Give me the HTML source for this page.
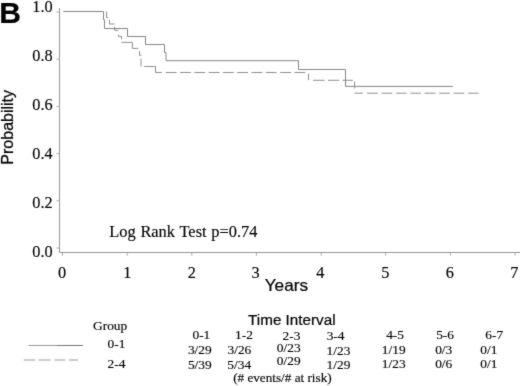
<!DOCTYPE html>
<html>
<head>
<meta charset="utf-8">
<title>Figure B</title>
<style>
html,body{margin:0;padding:0;background:#fff;}
body{width:520px;height:386px;overflow:hidden;}
svg{display:block;will-change:transform;}
.serif{font-family:"Liberation Serif",serif;fill:#000;stroke:#000;stroke-width:0.15px;}
.sans{font-family:"Liberation Sans",sans-serif;fill:#000;stroke:#000;stroke-width:0.22px;}
</style>
</head>
<body>
<svg width="520" height="386" viewBox="0 0 520 386">
<defs><filter id="soft" x="0" y="0" width="520" height="386" filterUnits="userSpaceOnUse" color-interpolation-filters="sRGB"><feConvolveMatrix order="3" kernelMatrix="0.02 0.08 0.02 0.08 0.6 0.08 0.02 0.08 0.02" divisor="1" edgeMode="duplicate" preserveAlpha="false"/></filter></defs>
<rect x="0" y="0" width="520" height="386" fill="#ffffff"/>
<g filter="url(#soft)">

<!-- axes -->
<g stroke="#969696" stroke-width="1" fill="none">
  <path d="M59.5 8 V252.5 H520"/>
  <path stroke="#a8a8a8" d="M56.5 12 H59.5 M56.5 59.2 H59.5 M56.5 106.4 H59.5 M56.5 153.6 H59.5 M56.5 200.8 H59.5 M56.5 248 H59.5"/>
  <path stroke="#a8a8a8" d="M62.5 253 V255.7 M127.2 253 V255.7 M191.8 253 V255.7 M256.4 253 V255.7 M321.1 253 V255.7 M385.7 253 V255.7 M450.4 253 V255.7 M515 253 V255.7"/>
</g>

<!-- curves -->
<g fill="none" stroke="#858585" stroke-width="1">
  <path d="M63.3 11.5 H103.5 V19.8 H104.5 V28.5 H127.5 V36.5 H145.5 V44.5 H164.5 V52.5 H166 V60.7 H298.5 V69.5 H345.5 V86.4 H453"/>
  <g stroke="#8e8e8e">
    <path d="M106.5 11.5 V17.6 H108.2 M109.5 20.1 V24 H114.6 M114.6 26.7 V30.3 H118.5 M118.4 34.6 V36.4 H121.5 V39.3 M121.4 42.4 H132.4 V48.4 H138.2 M139.5 51.2 V55.3 H141 V55.9 M141 58.5 V66.5 M144.2 66.5 H155.5 V72.5 H162"/>
    <path stroke-dasharray="10.9 3.4" d="M165.7 72.5 H306"/>
    <path d="M308.5 73.8 V80.3 M313 80.3 H324.6 M328 80.3 H339.2 M342.5 80.3 H352.8 M354.6 81.5 V88.3 M354.6 93.2 H363"/>
    <path stroke-dasharray="10.8 3.6" d="M367.1 93.2 H479.1"/>
  </g>
</g>

<!-- labels -->
<text class="sans" x="-0.8" y="23.4" font-size="30" font-weight="700">B</text>
<text class="sans" transform="translate(12.6 127.3) rotate(-90)" text-anchor="middle" font-size="16">Probability</text>

<g class="serif" font-size="16.3" text-anchor="end">
  <text x="52.6" y="11.9">1.0</text>
  <text x="52.6" y="60.6">0.8</text>
  <text x="52.6" y="109.7">0.6</text>
  <text x="52.6" y="158.5">0.4</text>
  <text x="52.6" y="207.7">0.2</text>
  <text x="52.6" y="256.5">0.0</text>
</g>
<g class="serif" font-size="16.3" text-anchor="middle">
  <text x="62.1" y="277.8">0</text>
  <text x="127.3" y="277.8">1</text>
  <text x="191.7" y="277.8">2</text>
  <text x="255.5" y="277.8">3</text>
  <text x="320.4" y="277.8">4</text>
  <text x="385.3" y="277.8">5</text>
  <text x="449.7" y="277.8">6</text>
  <text x="514.2" y="277.8">7</text>
</g>
<text class="sans" transform="translate(286.4 290.7) scale(1.075 1)" text-anchor="middle" font-size="16">Years</text>
<text class="serif" x="109.2" y="237.2" font-size="16.4" word-spacing="0.7">Log Rank Test p=0.74</text>

<!-- legend -->
<g fill="none" stroke-width="1">
  <path stroke="#999" d="M28.5 345.5 H57"/><path stroke="#777" d="M57 345.5 H83"/>
  <path stroke="#999" d="M23.8 360 H35.4 M38.5 360 H50.5 M54.6 360 H65.4 M68.9 360 H78.2"/>
</g>
<g class="serif" font-size="13.4">
  <text x="93" y="329.5">Group</text>
  <text x="107.6" y="348">0-1</text>
  <text x="107.6" y="368">2-4</text>
</g>

<!-- table -->
<text class="sans" transform="translate(291.8 325.1) scale(1.015 1)" text-anchor="middle" font-size="15">Time Interval</text>
<g class="serif" font-size="13.4" text-anchor="middle">
  <text x="201.4" y="339.4">0-1</text>
  <text x="244" y="339.4">1-2</text>
  <text x="291.5" y="340.1">2-3</text>
  <text x="335.6" y="340.1">3-4</text>
  <text x="395.1" y="339.3">4-5</text>
  <text x="445.1" y="339.3">5-6</text>
  <text x="494.2" y="339.3">6-7</text>

  <text x="199.8" y="353.9">3/29</text>
  <text x="239.4" y="353.9">3/26</text>
  <text x="288.7" y="352.3">0/23</text>
  <text x="338.5" y="354.5">1/23</text>
  <text x="393.7" y="353.6">1/19</text>
  <text x="443.7" y="353.5">0/3</text>
  <text x="488.9" y="353.5">0/1</text>

  <text x="199.8" y="368.5">5/39</text>
  <text x="239.2" y="368.5">5/34</text>
  <text x="288.7" y="364.9">0/29</text>
  <text x="338.5" y="369.2">1/29</text>
  <text x="393.7" y="368.3">1/23</text>
  <text x="443.7" y="368.1">0/6</text>
  <text x="488.9" y="368.1">0/1</text>

  <text x="282.4" y="381.9" font-size="13.2">(# events/# at risk)</text>
</g>
</g>
</svg>
</body>
</html>
